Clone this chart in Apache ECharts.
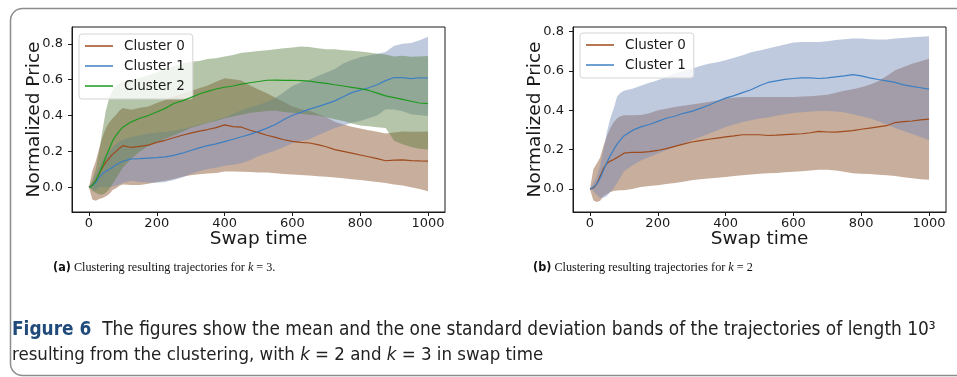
<!DOCTYPE html>
<html>
<head>
<meta charset="utf-8">
<script src="https://cdn.jsdelivr.net/npm/echarts@6/dist/echarts.min.js"></script>
<style>
html,body{margin:0;padding:0;background:#fff;}
#chart{width:957px;height:377px;}
</style>
</head>
<body>
<div id="chart"></div>
<script>
// ---- sample positions (swap time) ----
const X = [0,10,20,30,40,50,60,70,80,90,100,125,150,175,200,225,250,275,300,325,350,375,400,425,450,475,500,525,550,575,600,625,650,675,700,725,750,775,800,825,850,875,900,925,950,975,1000];

// ---- panel (a): k = 3 ----
const a_c0_mean = [0,0.012,0.035,0.075,0.11,0.14,0.163,0.185,0.2,0.218,0.232,0.222,0.228,0.235,0.25,0.262,0.276,0.29,0.302,0.313,0.322,0.333,0.348,0.338,0.335,0.318,0.305,0.29,0.278,0.265,0.256,0.25,0.247,0.238,0.226,0.21,0.2,0.19,0.18,0.17,0.16,0.148,0.151,0.153,0.149,0.147,0.146];
const a_c0_hi = [0,0.092,0.145,0.215,0.28,0.33,0.363,0.385,0.405,0.428,0.442,0.432,0.443,0.45,0.47,0.487,0.506,0.52,0.537,0.553,0.567,0.588,0.608,0.603,0.595,0.568,0.545,0.525,0.5,0.475,0.451,0.435,0.427,0.408,0.391,0.365,0.35,0.338,0.328,0.318,0.31,0.3,0.306,0.311,0.309,0.31,0.311];
const a_c0_lo = [0,-0.068,-0.075,-0.065,-0.06,-0.05,-0.037,-0.015,-0.005,0.008,0.015,0.012,0.013,0.02,0.03,0.037,0.046,0.058,0.067,0.073,0.077,0.08,0.088,0.088,0.087,0.085,0.083,0.082,0.078,0.074,0.071,0.068,0.065,0.062,0.058,0.055,0.05,0.045,0.04,0.035,0.03,0.024,0.016,0.01,0.0,-0.01,-0.022];

const a_c1_mean = [0,0.01,0.025,0.055,0.075,0.09,0.1,0.112,0.125,0.135,0.145,0.158,0.16,0.163,0.165,0.17,0.178,0.19,0.205,0.22,0.232,0.242,0.255,0.268,0.282,0.295,0.312,0.33,0.35,0.378,0.402,0.418,0.436,0.45,0.465,0.482,0.505,0.528,0.542,0.555,0.572,0.595,0.612,0.612,0.606,0.611,0.609];
const a_c1_hi = [0,0.03,0.07,0.11,0.15,0.18,0.2,0.22,0.24,0.255,0.265,0.28,0.29,0.3,0.305,0.31,0.315,0.325,0.335,0.35,0.362,0.375,0.39,0.41,0.43,0.445,0.46,0.475,0.5,0.53,0.565,0.585,0.6,0.62,0.64,0.66,0.69,0.71,0.725,0.735,0.745,0.755,0.79,0.8,0.805,0.82,0.84];
const a_c1_lo = [0,-0.01,-0.02,0.0,0.0,0.0,0.0,0.004,0.01,0.015,0.025,0.036,0.03,0.026,0.025,0.03,0.041,0.055,0.075,0.09,0.102,0.109,0.12,0.126,0.134,0.15,0.175,0.19,0.205,0.225,0.245,0.256,0.268,0.29,0.31,0.33,0.345,0.36,0.37,0.385,0.4,0.435,0.434,0.424,0.407,0.402,0.398];

const a_c2_mean = [0,0.01,0.035,0.075,0.12,0.17,0.215,0.26,0.29,0.315,0.335,0.365,0.385,0.4,0.42,0.44,0.467,0.482,0.5,0.52,0.535,0.548,0.558,0.565,0.575,0.583,0.59,0.597,0.598,0.596,0.597,0.595,0.592,0.585,0.58,0.572,0.565,0.557,0.55,0.54,0.525,0.51,0.5,0.49,0.48,0.47,0.467];
const a_c2_hi = [0,0.04,0.1,0.2,0.32,0.43,0.5,0.54,0.565,0.58,0.59,0.6,0.61,0.625,0.64,0.66,0.675,0.69,0.7,0.705,0.715,0.72,0.73,0.738,0.75,0.755,0.76,0.765,0.77,0.775,0.78,0.785,0.782,0.775,0.77,0.77,0.765,0.762,0.758,0.752,0.745,0.74,0.73,0.733,0.728,0.73,0.732];
const a_c2_lo = [0,-0.02,-0.03,-0.04,-0.04,-0.03,-0.01,0.02,0.05,0.08,0.11,0.16,0.2,0.23,0.25,0.27,0.29,0.31,0.33,0.345,0.36,0.37,0.385,0.395,0.405,0.415,0.42,0.425,0.428,0.42,0.415,0.41,0.405,0.4,0.39,0.38,0.37,0.355,0.345,0.34,0.335,0.33,0.26,0.24,0.225,0.215,0.21];

// ---- panel (b): k = 2 ----
const b_c0_mean = [0,0.005,0.025,0.065,0.105,0.13,0.142,0.15,0.16,0.17,0.182,0.187,0.186,0.19,0.196,0.205,0.217,0.228,0.239,0.246,0.253,0.259,0.265,0.27,0.276,0.276,0.276,0.272,0.274,0.277,0.279,0.281,0.286,0.293,0.29,0.289,0.293,0.297,0.304,0.31,0.316,0.322,0.338,0.343,0.346,0.352,0.355];
const b_c0_hi = [0,0.1,0.13,0.16,0.22,0.27,0.31,0.34,0.36,0.37,0.375,0.375,0.376,0.385,0.4,0.408,0.417,0.423,0.43,0.436,0.442,0.45,0.46,0.465,0.468,0.468,0.468,0.468,0.468,0.468,0.468,0.47,0.472,0.475,0.48,0.49,0.5,0.508,0.518,0.53,0.548,0.575,0.604,0.62,0.637,0.65,0.663];
const b_c0_lo = [0,-0.058,-0.066,-0.06,-0.035,-0.025,-0.015,-0.01,-0.008,-0.007,-0.007,0.0,0.01,0.015,0.019,0.025,0.03,0.037,0.044,0.049,0.053,0.057,0.061,0.066,0.07,0.074,0.078,0.08,0.082,0.085,0.088,0.09,0.094,0.098,0.098,0.094,0.088,0.08,0.078,0.076,0.073,0.07,0.066,0.06,0.055,0.05,0.047];

const b_c1_mean = [0,0.008,0.025,0.055,0.095,0.135,0.17,0.2,0.228,0.25,0.27,0.298,0.316,0.328,0.344,0.36,0.37,0.385,0.395,0.41,0.426,0.445,0.462,0.475,0.49,0.505,0.525,0.542,0.55,0.558,0.562,0.565,0.565,0.562,0.565,0.57,0.575,0.582,0.575,0.565,0.557,0.55,0.542,0.53,0.522,0.515,0.508];
const b_c1_hi = [0,0.03,0.06,0.12,0.2,0.29,0.36,0.41,0.47,0.49,0.5,0.51,0.525,0.54,0.553,0.57,0.587,0.6,0.612,0.625,0.637,0.645,0.655,0.668,0.68,0.695,0.705,0.715,0.725,0.735,0.745,0.748,0.748,0.748,0.752,0.758,0.762,0.765,0.765,0.762,0.76,0.76,0.765,0.768,0.772,0.775,0.777];
const b_c1_lo = [0,-0.01,-0.03,-0.045,-0.045,-0.035,-0.015,0.005,0.03,0.06,0.09,0.12,0.145,0.163,0.18,0.197,0.214,0.231,0.248,0.265,0.281,0.298,0.315,0.328,0.341,0.35,0.358,0.364,0.372,0.38,0.387,0.39,0.394,0.397,0.397,0.394,0.39,0.38,0.37,0.36,0.345,0.328,0.31,0.295,0.28,0.265,0.248];

// ---- ticks and labels ----
const xTicks = [0,200,400,600,800,1000];
const yTicks = [0.0,0.2,0.4,0.6,0.8];
const names = ['Cluster 0','Cluster 1','Cluster 2'];
const xTitle = 'Swap time';
const yTitle = 'Normalized Price';

// ---- styles ----
const lineColors = ['#9e4a1c','#3d7fc2','#1f9a1f'];
const bandColors = ['rgba(133,75,35,0.45)','rgba(115,137,184,0.45)','rgba(91,126,64,0.45)'];
const FONT = 'DejaVu Sans';

function pairs(xs, ys){ return xs.map((x,i)=>[x, ys[i]]); }
function rows(xs, lo, hi){ return xs.map((x,i)=>[x, lo[i], hi[i]]); }

function bandSeries(gi, lo, hi, ci){
  return {
    type:'custom', xAxisIndex:gi, yAxisIndex:gi, silent:true, clip:true,
    data: rows(X, lo, hi),
    encode:{x:0, y:[1,2]},
    renderItem: function(params, api){
      if (params.dataIndexInside !== 0) return null;
      const n = params.dataInsideLength;
      const pts = [];
      for (let i=0;i<n;i++) pts.push(api.coord([api.value(0,i), api.value(2,i)]));
      for (let i=n-1;i>=0;i--) pts.push(api.coord([api.value(0,i), api.value(1,i)]));
      return {type:'polygon', shape:{points:pts}, style:{fill:bandColors[ci], stroke:null}};
    },
    z:1
  };
}
function meanSeries(gi, ys, ci){
  return {
    type:'line', name:names[ci], xAxisIndex:gi, yAxisIndex:gi,
    data: pairs(X, ys), symbol:'none', showSymbol:false, silent:true,
    lineStyle:{color:lineColors[ci], width:1.2}, itemStyle:{color:lineColors[ci]},
    z:5, animation:false
  };
}
function xAxis(gi){
  return {
    type:'value', gridIndex:gi, min:-50, max:1050,
    name:xTitle, nameLocation:'middle', nameGap:18, nameMoveOverlap:false,
    nameTextStyle:{fontFamily:FONT, fontSize:18.5, color:'#1a1a1a'},
    axisLine:{show:true, onZero:false, lineStyle:{color:'#1a1a1a', width:1}},
    axisTick:{show:true, length:4, customValues:xTicks, lineStyle:{color:'#1a1a1a'}},
    axisLabel:{customValues:xTicks, margin:5, fontFamily:FONT, fontSize:13, color:'#1a1a1a', formatter:v=>String(Math.round(v))},
    splitLine:{show:false}
  };
}
function yAxis(gi, mn, mx){
  return {
    type:'value', gridIndex:gi, min:mn, max:mx,
    name:yTitle, nameLocation:'middle', nameGap:28, nameRotate:90, nameMoveOverlap:false,
    nameTextStyle:{fontFamily:FONT, fontSize:18.5, color:'#1a1a1a'},
    axisLine:{show:true, onZero:false, lineStyle:{color:'#1a1a1a', width:1}},
    axisTick:{show:true, length:4, customValues:yTicks, lineStyle:{color:'#1a1a1a'}},
    axisLabel:{customValues:yTicks, margin:9, fontFamily:FONT, fontSize:13, color:'#1a1a1a', formatter:v=>v.toFixed(1)},
    splitLine:{show:false}
  };
}
function legend(left, top, data){
  return {
    orient:'vertical', left:left, top:top, data:data,
    icon:'rect', itemWidth:28, itemHeight:1.5, itemGap:4, padding:[4,8,5,6],
    backgroundColor:'rgba(255,255,255,0.8)', borderColor:'#d4d4d4', borderWidth:1, borderRadius:3,
    textStyle:{fontFamily:FONT, fontSize:13.5, lineHeight:16, color:'#1a1a1a', padding:[0,0,0,6]},
    selectedMode:false
  };
}

const chart = echarts.init(document.getElementById('chart'), null, {renderer:'canvas'});
chart.setOption({
  animation:false,
  backgroundColor:'#fff',
  grid:[
    {left:72, top:27, width:373, height:185, show:true, borderColor:'#1a1a1a', borderWidth:1, backgroundColor:'transparent'},
    {left:573, top:27, width:373, height:185, show:true, borderColor:'#1a1a1a', borderWidth:1, backgroundColor:'transparent'}
  ],
  xAxis:[xAxis(0), xAxis(1)],
  yAxis:[yAxis(0,-0.138,0.894), yAxis(1,-0.117,0.824)],
  legend:[legend(79,34,names), legend(580,33,names.slice(0,2))],
  series:[
    bandSeries(0, a_c0_lo, a_c0_hi, 0),
    bandSeries(0, a_c1_lo, a_c1_hi, 1),
    bandSeries(0, a_c2_lo, a_c2_hi, 2),
    meanSeries(0, a_c0_mean, 0),
    meanSeries(0, a_c1_mean, 1),
    meanSeries(0, a_c2_mean, 2),
    bandSeries(1, b_c0_lo, b_c0_hi, 0),
    bandSeries(1, b_c1_lo, b_c1_hi, 1),
    meanSeries(1, b_c0_mean, 0),
    meanSeries(1, b_c1_mean, 1)
  ],
  graphic:[
    {type:'rect', shape:{x:10.5, y:8.5, width:990, height:367, r:12}, style:{fill:'none', stroke:'#8c8c8c', lineWidth:1.5}, silent:true},
    {type:'text', left:53, top:261, style:{
      text:'{b|(a)} Clustering resulting trajectories for {i|k} = 3.',
      fontFamily:'Liberation Serif', fontSize:12.2, fill:'#111',
      rich:{b:{fontFamily:'DejaVu Sans Condensed', fontWeight:'bold', fontSize:12.5, fill:'#111'}, i:{fontFamily:'Liberation Serif', fontStyle:'italic', fontSize:12.2, fill:'#111'}}
    }},
    {type:'text', left:533, top:261, style:{
      text:'{b|(b)} Clustering resulting trajectories for {i|k} = 2',
      fontFamily:'Liberation Serif', fontSize:12.2, fill:'#111',
      rich:{b:{fontFamily:'DejaVu Sans Condensed', fontWeight:'bold', fontSize:12.5, fill:'#111'}, i:{fontFamily:'Liberation Serif', fontStyle:'italic', fontSize:12.2, fill:'#111'}}
    }},
    {type:'text', left:12, top:321, style:{
      text:'{b|Figure 6}  The figures show the mean and the one standard deviation bands of the trajectories of length 10³',
      fontFamily:'DejaVu Sans Condensed', fontSize:18.9, fill:'#222',
      rich:{b:{fontFamily:'DejaVu Sans Condensed', fontWeight:'bold', fontSize:18.9, fill:'#1f4a7a'}}
    }},
    {type:'text', left:12, top:346, style:{
      text:'resulting from the clustering, with {i|k} = 2 and {i|k} = 3 in swap time',
      fontFamily:'DejaVu Sans Condensed', fontSize:18.5, fill:'#222',
      rich:{i:{fontFamily:'DejaVu Sans Condensed', fontStyle:'italic', fontSize:18.5, fill:'#222'}}
    }}
  ]
});
</script>
</body>
</html>
